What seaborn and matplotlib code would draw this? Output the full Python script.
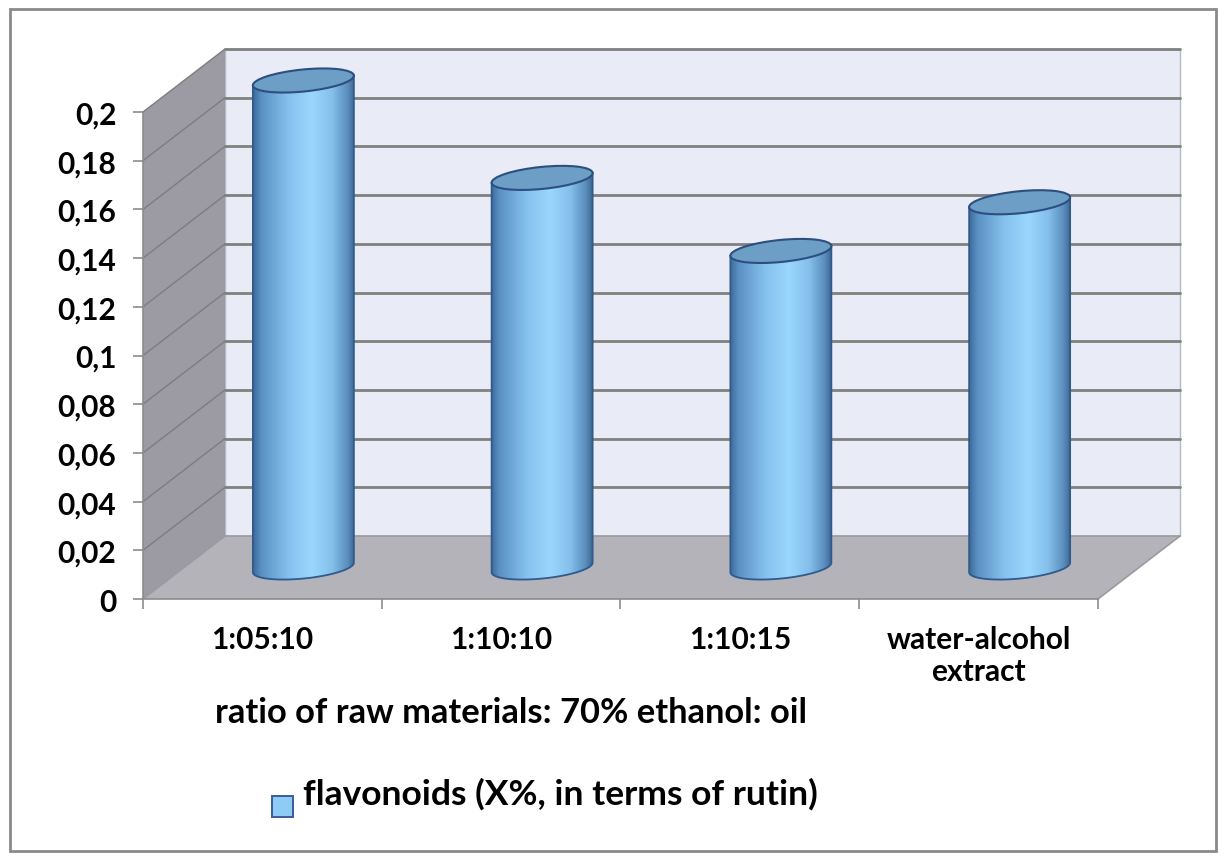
import numpy as np
import matplotlib
matplotlib.use("Agg")
import matplotlib.pyplot as plt
import seaborn as sns
import pandas as pd
from matplotlib.patches import Polygon, Rectangle, Ellipse
from matplotlib.colors import LinearSegmentedColormap
from matplotlib.lines import Line2D

# ---- data ----
categories = ["1:05:10", "1:10:10", "1:10:15", "water-alcohol\nextract"]
flavonoids = [0.20, 0.16, 0.13, 0.15]
y_ticks = [0, 0.02, 0.04, 0.06, 0.08, 0.10, 0.12, 0.14, 0.16, 0.18, 0.20]
y_tick_labels = ["0", "0,02", "0,04", "0,06", "0,08", "0,1",
                 "0,12", "0,14", "0,16", "0,18", "0,2"]
x_title = "ratio of raw materials: 70% ethanol: oil"
series_name = "flavonoids (X%, in terms of rutin)"

# ---- figure setup ----
W, H, DPI = 1226, 862, 100
sns.set_theme(style="white")
plt.rcParams["font.family"] = ["Lato", "DejaVu Sans"]
plt.rcParams["text.color"] = "black"

fig = plt.figure(figsize=(W / DPI, H / DPI), dpi=DPI)
fig.patch.set_facecolor("white")

# full-figure layer (pixel units) for the 3-D box decoration
deco = fig.add_axes([0, 0, 1, 1], zorder=0)
deco.axis("off")

# front plane of the chart box
ax = fig.add_axes([143 / W, (H - 600) / H, 955 / W, 487 / H], zorder=1)
ax.patch.set_alpha(0)

df = pd.DataFrame({"ratio": categories, "value": flavonoids})
sns.barplot(data=df, x="ratio", y="value", ax=ax, width=0.425,
            color="#8cc8f0", saturation=1)
ax.set_xlim(-0.5, 3.5)
ax.set_ylim(0, 0.2)

DEPTH = np.array([82.0, 63.0])   # perspective offset of the back wall, px


def px(x, v, f=0.0):
    """Data point (x, v) at depth fraction f -> figure pixels."""
    return ax.transData.transform((x, v)) + f * DEPTH


x0, x1 = -0.5, 3.5
vmax = y_ticks[-1]

# back wall
deco.add_patch(Polygon([px(x0, 0, 1), px(x1, 0, 1), px(x1, vmax, 1), px(x0, vmax, 1)],
                       closed=True, fc="#e9ebf6", ec="#b8b8c0", lw=1, zorder=1))
for v in y_ticks[1:]:
    a, b = px(x0, v, 1), px(x1, v, 1)
    deco.add_line(Line2D([a[0], b[0]], [a[1], b[1]], color="#808080", lw=2.0, zorder=2))

# side wall
deco.add_patch(Polygon([px(x0, 0, 0), px(x0, vmax, 0), px(x0, vmax, 1), px(x0, 0, 1)],
                       closed=True, fc="#9c9ba3", ec="none", zorder=1))
for v in y_ticks[1:]:
    a, b = px(x0, v, 0), px(x0, v, 1)
    deco.add_line(Line2D([a[0], b[0]], [a[1], b[1]], color="#7d7c83", lw=1.0, zorder=2))

# floor
deco.add_patch(Polygon([px(x0, 0, 0), px(x1, 0, 0), px(x1, 0, 1), px(x0, 0, 1)],
                       closed=True, fc="#b3b3b9", ec="none", zorder=2))
for (p, q) in [((x0, 0, 1), (x1, 0, 1)), ((x1, 0, 0), (x1, 0, 1)), ((x0, 0, 0), (x0, 0, 1))]:
    a, b = px(*p), px(*q)
    deco.add_line(Line2D([a[0], b[0]], [a[1], b[1]], color="#9a9aa0", lw=1.2, zorder=2))

# ---- cylinders built from the seaborn bars ----
body_cmap = LinearSegmentedColormap.from_list(
    "cyl",
    [(0.00, "#3d6a98"), (0.08, "#5a90c4"), (0.35, "#86c2ee"),
     (0.58, "#9ad7fd"), (0.78, "#84bfea"), (0.93, "#5b8dbd"), (1.00, "#3b6692")])
grad = np.linspace(0, 1, 256).reshape(1, -1)
theta = np.deg2rad(5.7)
u = np.array([np.cos(theta), np.sin(theta)])
n = np.array([-np.sin(theta), np.cos(theta)])
b_semi = 11.0

for patch in ax.patches:
    bx, bw, bh = patch.get_x(), patch.get_width(), patch.get_height()
    patch.set_visible(False)
    xc = bx + bw / 2
    a_semi = (px(bx + bw, 0)[0] - px(bx, 0)[0]) / 2
    cb = px(xc, 0, 0.5)
    ct = px(xc, bh, 0.5)

    def E(c, t):
        return c + a_semi * np.cos(t) * u + b_semi * np.sin(t) * n

    t_low = np.linspace(np.pi, 2 * np.pi, 60)
    outline = [E(ct, np.pi)] + [E(cb, t) for t in t_low] + [E(ct, 2 * np.pi)]
    body = Polygon(outline, closed=True, fc="none", ec="#2f5a8c", lw=1.3, zorder=4)
    deco.add_patch(body)
    ys = np.array(outline)[:, 1]
    im = deco.imshow(grad, cmap=body_cmap, aspect="auto", origin="lower",
                     interpolation="bicubic",
                     extent=[cb[0] - a_semi, cb[0] + a_semi, ys.min() - 2, ys.max() + 2],
                     zorder=3)
    im.set_clip_path(body)
    deco.add_patch(Ellipse(ct, 2 * a_semi, 2 * b_semi, angle=np.rad2deg(theta),
                           fc="#6c9ec6", ec="#2c4f80", lw=1.5, zorder=5))

deco.set_xlim(0, W)
deco.set_ylim(0, H)

# ---- axes, ticks, labels ----
for side in ["top", "right"]:
    ax.spines[side].set_visible(False)
for side in ["left", "bottom"]:
    ax.spines[side].set_color("#8c8c8c")
    ax.spines[side].set_linewidth(1.2)

ax.set_yticks(y_ticks)
ax.set_yticklabels(y_tick_labels, fontsize=21.5, fontweight="bold", color="black")
ax.tick_params(axis="y", left=True, length=7.2, width=1.2, color="#8c8c8c", pad=12)

ax.set_xticks(range(len(categories)))
ax.set_xticklabels(categories, fontsize=21.5, fontweight="bold", color="black",
                   linespacing=1.15)
ax.set_xticks([x0 + i for i in range(len(categories) + 1)], minor=True)
ax.tick_params(axis="x", which="major", bottom=True, length=0, pad=19)
ax.tick_params(axis="x", which="minor", bottom=True, length=7.2, width=1.2, color="#8c8c8c")
ax.set_xlabel("")
ax.set_ylabel("")

fig.text(511 / W, (H - 723) / H, x_title, ha="center", va="baseline",
         fontsize=24.8, fontweight="bold", color="black")

# legend
deco.add_patch(Rectangle((272, H - 818), 21, 21, fc="#8ecbf5", ec="#3d5a9a", lw=1.4, zorder=6))
deco.text(303, H - 805, series_name, ha="left", va="baseline",
          fontsize=25.5, fontweight="bold", color="black")

# outer chart border
deco.add_patch(Rectangle((10, H - 852), 1206, 842, fc="none", ec="#8a8a8a", lw=2, zorder=7))

fig.savefig("out.png", dpi=DPI, facecolor="white")
